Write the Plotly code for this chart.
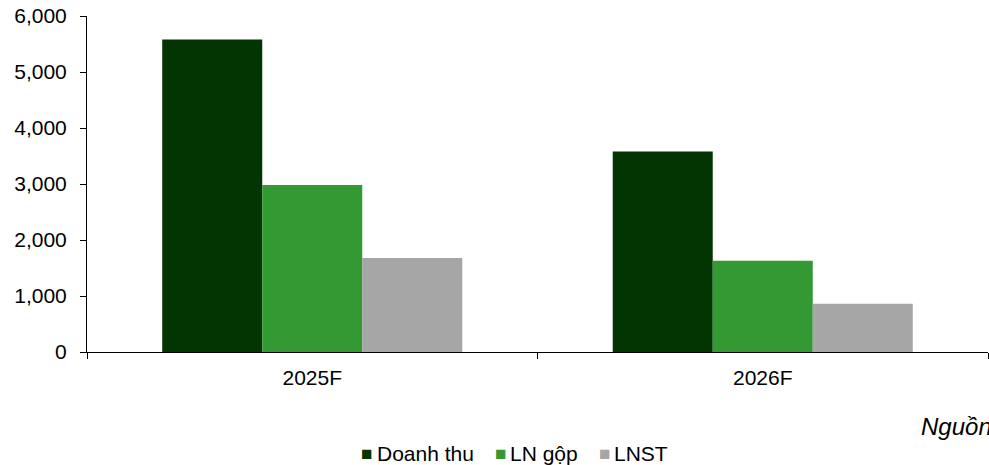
import plotly.graph_objects as go

categories = ["2025F", "2026F"]
doanh_thu = [5580, 3580]
ln_gop = [2980, 1630]
lnst = [1680, 860]
series_names = ["Doanh thu", "LN gộp", "LNST"]
colors = ["#033503", "#339933", "#A6A6A6"]

font = "Liberation Sans, Arial, sans-serif"

L, R, T, B = 87, 1, 16, 113
W, H = 989, 465
PW, PH = W - L - R, H - T - B


def px(x):
    return (x - L) / PW


def py(y):
    return (H - B - y) / PH


fig = go.Figure()
for name, vals, c in zip(series_names, [doanh_thu, ln_gop, lnst], colors):
    fig.add_trace(go.Bar(name=name, x=categories, y=vals, marker_color=c,
                         marker_line_width=0))

# manual legend (compact, like the reference)
square_x = [359, 493, 597]
text_x = [375, 508, 612]
annotations = []
for name, c, sx, tx in zip(series_names, colors, square_x, text_x):
    annotations.append(dict(
        text="■", xref="paper", yref="paper", x=px(sx), y=py(453),
        xanchor="left", yanchor="middle", showarrow=False,
        font=dict(size=19, family=font, color=c)))
    annotations.append(dict(
        text=name, xref="paper", yref="paper", x=px(tx), y=py(453),
        xanchor="left", yanchor="middle", showarrow=False,
        font=dict(size=21, family=font, color="black")))
annotations.append(dict(text="<i>Nguồn</i>", xref="paper", yref="paper",
                        x=px(919), y=py(426),
                        xanchor="left", yanchor="middle", showarrow=False,
                        font=dict(size=24, family=font, color="black")))

fig.update_layout(
    width=W, height=H,
    margin=dict(l=L, r=R, t=T, b=B, autoexpand=False),
    barmode="group", bargap=0.334, bargroupgap=0,
    plot_bgcolor="white", paper_bgcolor="white",
    font=dict(family=font, size=21, color="#000000"),
    showlegend=False,
    xaxis=dict(showline=True, linecolor="black", linewidth=1, ticks="outside",
               tickson="boundaries", ticklen=6, tickcolor="black", showgrid=False,
               tickfont=dict(size=21), automargin=False, ticklabelstandoff=7),
    yaxis=dict(range=[0, 6000], tickvals=[0, 1000, 2000, 3000, 4000, 5000, 6000],
               tickformat=",d", showline=True, linecolor="black", linewidth=1,
               ticks="outside", ticklen=6, tickcolor="black", showgrid=False,
               zeroline=False, tickfont=dict(size=21), automargin=False,
               ticklabelstandoff=9),
    annotations=annotations,
)

fig.write_html("out.html", config={"displayModeBar": False},
               post_script="document.body.style.margin='0';document.body.style.overflow='hidden';")
